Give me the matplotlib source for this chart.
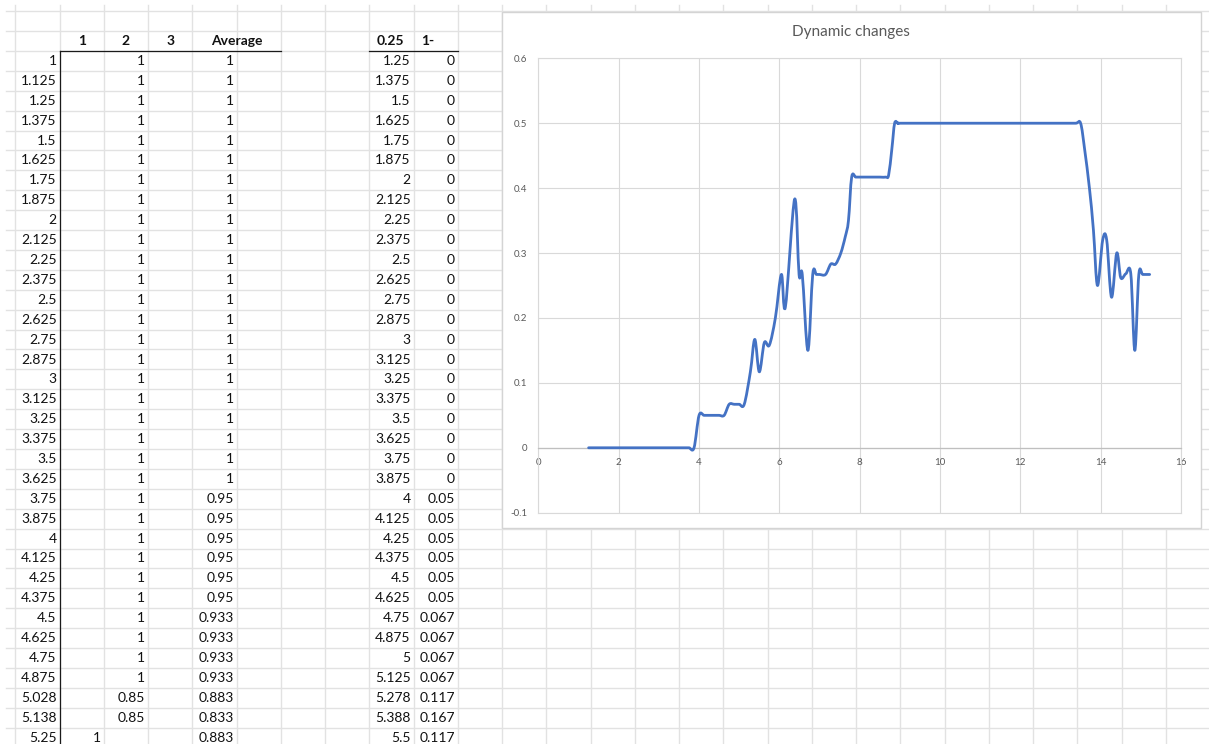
import numpy as np
import matplotlib.pyplot as plt
from matplotlib.path import Path
from matplotlib.patches import PathPatch, Rectangle

plt.rcParams['font.family'] = ['Lato', 'DejaVu Sans']

W, H = 1209, 744

# sheet columns A..F (visible rows)
col_a = [1, 1.125, 1.25, 1.375, 1.5, 1.625, 1.75, 1.875, 2, 2.125, 2.25, 2.375,
         2.5, 2.625, 2.75, 2.875, 3, 3.125, 3.25, 3.375, 3.5, 3.625, 3.75, 3.875,
         4, 4.125, 4.25, 4.375, 4.5, 4.625, 4.75, 4.875, 5.028, 5.138, 5.25]
run_1 = [None, None, None, None, None, None, None, None, None, None, None, None,
         None, None, None, None, None, None, None, None, None, None, None, None,
         None, None, None, None, None, None, None, None, None, None, 1]
run_2 = [1, 1, 1, 1, 1, 1, 1, 1, 1, 1, 1, 1, 1, 1, 1, 1, 1, 1, 1, 1, 1, 1, 1, 1,
         1, 1, 1, 1, 1, 1, 1, 1, 0.85, 0.85, None]
average = [1, 1, 1, 1, 1, 1, 1, 1, 1, 1, 1, 1, 1, 1, 1, 1, 1, 1, 1, 1, 1, 1,
           0.95, 0.95, 0.95, 0.95, 0.95, 0.95, 0.933, 0.933, 0.933, 0.933,
           0.883, 0.833, 0.883]
headers = ['1', '2', '3', 'Average']

# shifted time and 1-average (full column, chart source)
shifted = [1.25, 1.375, 1.5, 1.625, 1.75, 1.875, 2, 2.125, 2.25, 2.375, 2.5, 2.625,
           2.75, 2.875, 3, 3.125, 3.25, 3.375, 3.5, 3.625, 3.75, 3.875, 4, 4.125,
           4.25, 4.375, 4.5, 4.625, 4.75, 4.875, 5, 5.125, 5.278, 5.388, 5.5,
           5.625, 5.75, 5.9, 6.05, 6.15, 6.38, 6.49, 6.57, 6.71, 6.83, 6.92,
           7.0, 7.15, 7.28, 7.4, 7.53, 7.64, 7.72, 7.8, 7.9, 8.0, 8.25,
           8.5, 8.65, 8.72, 8.8, 8.87, 8.95, 9.0, 9.5, 10, 10.5, 11, 11.5, 12,
           12.5, 13, 13.375, 13.5, 13.6, 13.72, 13.82, 13.92, 14.05, 14.15, 14.27,
           14.4, 14.5, 14.625, 14.75, 14.85, 14.95, 15.05, 15.22]
one_minus = [0, 0, 0, 0, 0, 0, 0, 0, 0, 0, 0, 0, 0, 0, 0, 0, 0, 0, 0, 0, 0, 0,
             0.05, 0.05, 0.05, 0.05, 0.05, 0.05, 0.067, 0.067, 0.067, 0.067,
             0.117, 0.167, 0.117,
             0.162, 0.158, 0.2, 0.267, 0.217, 0.383, 0.267, 0.267, 0.15, 0.267, 0.267,
             0.267, 0.267, 0.283, 0.283, 0.3, 0.325, 0.35, 0.417, 0.417, 0.417, 0.417,
             0.417, 0.417, 0.42, 0.46, 0.5, 0.5, 0.5, 0.5, 0.5, 0.5, 0.5, 0.5, 0.5,
             0.5, 0.5, 0.5, 0.5, 0.46, 0.4, 0.335, 0.25, 0.32, 0.32, 0.232,
             0.3, 0.262, 0.268, 0.268, 0.15, 0.267, 0.267, 0.267]
headers_2 = ['0.25', '1-']

x_ticks = [0, 2, 4, 6, 8, 10, 12, 14, 16]
y_ticks = [-0.1, 0, 0.1, 0.2, 0.3, 0.4, 0.5, 0.6]
y_labels = ['-0.1', '0', '0.1', '0.2', '0.3', '0.4', '0.5', '0.6']


def fmt(v):
    return '' if v is None else f'{v:g}'


def smooth_path(xs, ys):
    # catmull-rom style bezier, like a spreadsheet "smoothed line"
    p = np.column_stack([xs, ys]).astype(float)
    n = len(p)
    verts = [p[0]]
    codes = [Path.MOVETO]
    for i in range(n - 1):
        p0 = p[i - 1] if i > 0 else p[i]
        p3 = p[i + 2] if i + 2 < n else p[i + 1]
        verts += [p[i] + (p[i + 1] - p0) / 6, p[i + 1] - (p3 - p[i]) / 6, p[i + 1]]
        codes += [Path.CURVE4] * 3
    return Path(verts, codes)


fig = plt.figure(figsize=(W / 100, H / 100), dpi=100)
sheet = fig.add_axes([0, 0, 1, 1])
sheet.set_xlim(0, W)
sheet.set_ylim(H, 0)
sheet.axis('off')

row_h = 19.9
row_0 = 11.2
col_w = 44.25
col_0 = 15.3
grid_c = '#E2E2E2'

for k in range(40):
    y = row_0 + row_h * k
    sheet.plot([6, W], [y, y], color=grid_c, lw=1.0)
for k in range(28):
    x = col_0 + col_w * k
    sheet.plot([x, x], [5, H], color=grid_c, lw=1.0)

def col_edge(k):
    return col_0 + col_w * k

top_data = row_0 + row_h * 2
# black borders
sheet.plot([col_edge(1), col_edge(1)], [top_data, H], color='#1a1a1a', lw=0.9)
sheet.plot([col_edge(1), col_edge(6)], [top_data, top_data], color='#1a1a1a', lw=0.9)
sheet.plot([col_edge(8), col_edge(10)], [top_data, top_data], color='#1a1a1a', lw=0.9)

fs = 10
hdr_y = row_0 + row_h + 14
for j, h in enumerate(headers[:3]):
    sheet.text((col_edge(1 + j) + col_edge(2 + j)) / 2, hdr_y, h, ha='center',
               va='baseline', fontsize=fs, fontweight='bold', color='#111111')
sheet.text(col_edge(5), hdr_y, headers[3], ha='center', va='baseline',
           fontsize=fs, fontweight='bold', color='#111111')
sheet.text(390, hdr_y, headers_2[0], ha='center', va='baseline',
           fontsize=fs, fontweight='bold', color='#111111')
sheet.text(421, hdr_y, headers_2[1], ha='left', va='baseline',
           fontsize=fs, fontweight='bold', color='#111111')

for i in range(len(col_a)):
    y = top_data + row_h * i + 14
    cells = [(col_a[i], 1), (run_1[i], 2), (run_2[i], 3), (average[i], 5),
             (shifted[i], 9), (one_minus[i], 10)]
    for v, k in cells:
        sheet.text(col_edge(k) - 2.8, y, fmt(v), ha='right', va='baseline',
                   fontsize=fs, color='#111111')

# chart frame
sheet.add_patch(Rectangle((502, 12), 699, 516, fc='white', ec='#D4D4D4', lw=1.0,
                          zorder=5))
sheet.text(850.5, 32, 'Dynamic changes', ha='center', va='center', fontsize=11,
           color='#595959', zorder=6)

left, right, top, bottom = 538.4, 1181, 58.3, 512.7
ax = fig.add_axes([left / W, 1 - bottom / H, (right - left) / W, (bottom - top) / H])
ax.set_zorder(10)
ax.patch.set_alpha(0)
ax.set_xlim(0, 16)
ax.set_ylim(-0.1, 0.6)
ax.set_xticks(x_ticks)
ax.set_yticks(y_ticks)
ax.set_yticklabels(y_labels)
ax.grid(True, color='#D9D9D9', lw=0.8)
ax.set_axisbelow(True)
for s in ['top', 'left', 'right']:
    ax.spines[s].set_color('#D9D9D9')
    ax.spines[s].set_linewidth(0.8)
ax.spines['bottom'].set_position(('data', 0))
ax.spines['bottom'].set_color('#BFBFBF')
ax.spines['bottom'].set_linewidth(0.9)
ax.axhline(-0.1, color='#D9D9D9', lw=0.8, clip_on=False)
ax.tick_params(length=0, labelsize=7, labelcolor='#595959')
ax.tick_params(axis='y', pad=8)
ax.tick_params(axis='x', pad=7)

ax.add_patch(PathPatch(smooth_path(shifted, one_minus), fc='none', ec='#4472C4',
                       lw=2.0, capstyle='round', joinstyle='round', zorder=3))

fig.savefig('out.png', dpi=100, facecolor='white')
